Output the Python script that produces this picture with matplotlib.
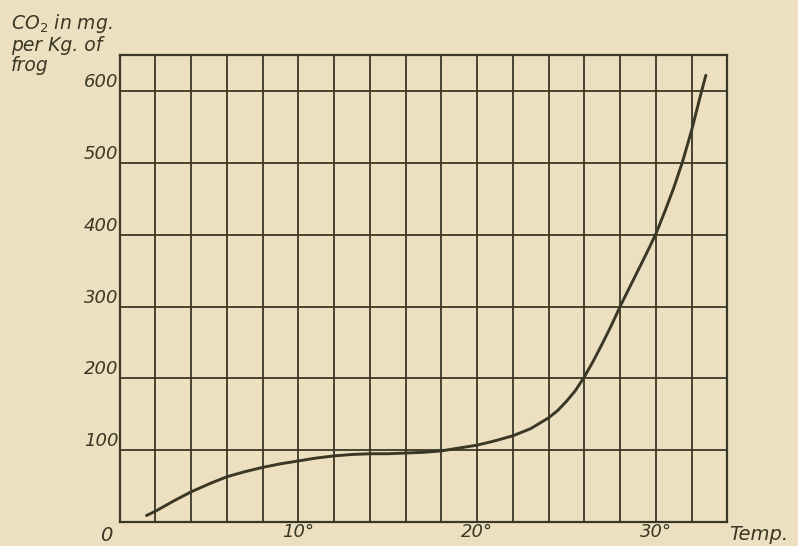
import numpy as np
import matplotlib.pyplot as plt

# values (CO2 output of frog vs temperature)
temp = [1.5, 2, 2.5, 3, 4, 5, 6, 7, 8, 9, 10, 11, 12, 13, 14, 15, 16, 17, 18, 19, 20,
        21, 22, 23, 24, 24.5, 25, 25.5, 26, 26.5, 27, 27.5, 28, 28.5, 29, 29.5, 30,
        30.5, 31, 31.5, 32, 32.5, 32.8]
co2 = [9, 15, 22, 29, 42, 53, 63, 70, 76, 81, 85, 89, 92, 94, 95, 95, 96, 97, 99, 103, 107,
       113, 120, 130, 145, 155, 168, 183, 202, 224, 248, 273, 300, 325, 350, 375, 401,
       432, 465, 502, 545, 594, 622]

x_grid = list(range(0, 35, 2))
x_labels = ['10°' if t == 10 else '20°' if t == 20 else '30°' if t == 30 else '' for t in x_grid]
y_grid = [100, 200, 300, 400, 500, 600]
y_labels = ['100', '200', '300', '400', '500', '600']

paper = '#ece0c0'
ink = '#3a3726'

fig = plt.figure(figsize=(7.98, 5.46), dpi=100, facecolor=paper)
ax = fig.add_axes([0.150, 0.044, 0.7614, 0.855])
ax.set_facecolor(paper)

ax.plot(temp, co2, color=ink, lw=2.1, solid_capstyle='round', solid_joinstyle='round')

ax.set_xlim(0, 34)
ax.set_ylim(0, 650)
ax.set_xticks(x_grid)
ax.set_xticklabels(x_labels)
ax.set_yticks(y_grid)
ax.set_yticklabels(y_labels)
ax.grid(True, color=ink, lw=1.3)
ax.set_axisbelow(True)
for s in ax.spines.values():
    s.set_color(ink)
    s.set_linewidth(1.6)

ax.tick_params(length=0, colors=ink, labelsize=13, pad=1)
for lbl in ax.get_xticklabels() + ax.get_yticklabels():
    lbl.set_fontstyle('italic')
    lbl.set_family('DejaVu Sans')
for lbl in ax.get_yticklabels():
    lbl.set_va('bottom')

ax.text(-0.4, -6, '0', ha='right', va='top', fontsize=14, style='italic', color=ink)
ax.text(34.1, -4, 'Temp.', ha='left', va='top', fontsize=14, style='italic', color=ink,
        clip_on=False)
fig.text(0.014, 0.978, 'CO$_2$ in mg.\nper Kg. of\nfrog', ha='left', va='top',
         fontsize=13.5, style='italic', color=ink, linespacing=1.05)

fig.savefig('out.png', dpi=100, facecolor=paper)
